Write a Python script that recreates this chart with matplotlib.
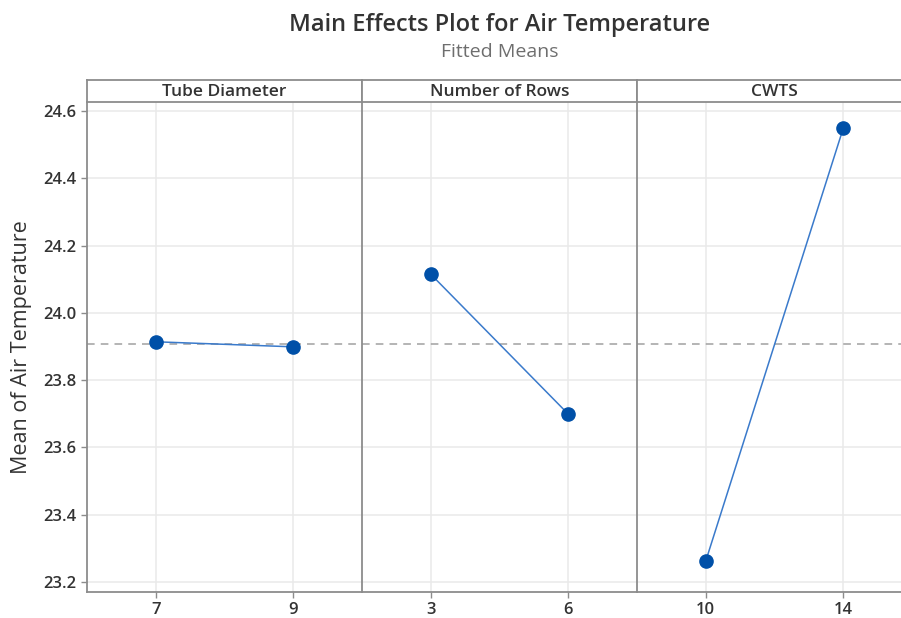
import numpy as np
import matplotlib.pyplot as plt

plt.rcParams['font.family'] = ['Open Sans', 'DejaVu Sans']

factors = ["Tube Diameter", "Number of Rows", "CWTS"]
levels = [[7, 9], [3, 6], [10, 14]]
means = [[23.914, 23.899], [24.115, 23.699], [23.262, 24.549]]
xlims = [(6, 10), (1.5, 7.5), (8, 16)]
yticks = [23.2, 23.4, 23.6, 23.8, 24.0, 24.2, 24.4, 24.6]
grand_mean = 23.907

W, H = 901, 618
fig = plt.figure(figsize=(W / 100, H / 100), dpi=100)

frame_col = '#8c8c8c'
grid_col = '#e9e9e9'
text_col = '#333333'
line_col = '#3a7acb'
marker_col = '#0050a8'

left, right = 87, 912
top_plot, bottom_plot = 102, 592
strip_top = 80
pw = (right - left) / 3

for i, name in enumerate(factors):
    x0 = left + i * pw
    ax = fig.add_axes([x0 / W, (H - bottom_plot) / H, pw / W, (bottom_plot - top_plot) / H])
    ax.set_xlim(*xlims[i])
    ax.set_ylim(23.170, 24.627)
    ax.set_xticks(levels[i])
    ax.set_xticklabels([str(v) for v in levels[i]])
    ax.set_yticks(yticks)
    ax.grid(True, color=grid_col, linewidth=1.1)
    ax.set_axisbelow(True)
    ax.axhline(grand_mean, color='#a0a0a0', linestyle=(0, (5, 4)), linewidth=1.1, zorder=1)
    ax.plot(levels[i], means[i], color=line_col, linewidth=1.1, zorder=2)
    ax.plot(levels[i], means[i], 'o', color=marker_col, markersize=9.5, zorder=3)
    for side in ['top', 'right']:
        ax.spines[side].set_visible(False)
    for side in ['left', 'bottom']:
        ax.spines[side].set_color(frame_col)
        ax.spines[side].set_linewidth(1.3)
    ax.tick_params(axis='both', colors=frame_col, labelcolor=text_col, labelsize=12, length=4, width=1)
    for lab in ax.get_xticklabels() + ax.get_yticklabels():
        lab.set_fontweight('semibold')
    if i == 0:
        ax.set_ylabel("Mean of Air Temperature", fontsize=15.5, color=text_col, labelpad=8)
        ax.set_yticklabels([f"{v:.1f}" for v in yticks])
    else:
        ax.tick_params(axis='y', left=False, labelleft=False)

    # strip header above each panel
    sax = fig.add_axes([x0 / W, (H - top_plot) / H, pw / W, (top_plot - strip_top) / H])
    sax.set_xticks([])
    sax.set_yticks([])
    for sp in sax.spines.values():
        sp.set_color(frame_col)
        sp.set_linewidth(1.3)
    sax.text(0.5, 0.45, name, ha='center', va='center', fontsize=12.5,
             color=text_col, fontweight='semibold', transform=sax.transAxes)

fig.text(500 / W, 1 - 25 / H, "Main Effects Plot for Air Temperature", ha='center', va='center',
         fontsize=17, color=text_col, fontweight='semibold')
fig.text(500 / W, 1 - 52 / H, "Fitted Means", ha='center', va='center', fontsize=14, color='#6e6e6e')

fig.savefig("out.png", dpi=100)
